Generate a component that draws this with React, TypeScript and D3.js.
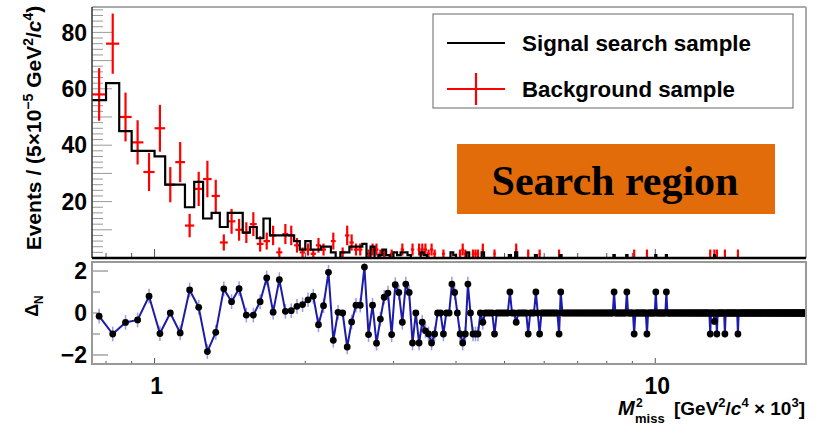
import React from "react";
import * as d3 from "d3";

// ---------------- data ----------------
const X_MIN = 0.75;
const X_MAX = 20;
const BIN_WIDTH = 0.05;
const BKG_WEIGHT = 1.5;

// Signal search sample, first 76 bins (0.75 .. 4.55)
const signalHead = [
  56, 62, 45, 38, 38, 36, 26, 26, 18, 27,
  14, 16, 11, 16, 16, 9, 11, 7, 14, 8,
  8, 8, 8, 6, 3, 6, 3, 3, 4, 4,
  2, 0, 2, 2, 4, 4, 4, 5, 0, 4,
  0, 1, 3, 1, 0, 2, 1, 2, 2, 1,
  0, 0, 0, 2, 1, 0, 0, 0, 0, 0,
  0, 0, 0, 2, 1, 0, 0, 0, 0, 2,
  0, 0, 0, 0, 0, 2,
];
// Background sample, first 76 bins
const backgroundHead = [
  58, 76, 50, 41, 30.5, 46, 26, 34, 11.5, 24.5,
  28, 22, 5.5, 13, 10, 9, 12, 5, 6, 8,
  2, 8.5, 8, 4.5, 2, 3, 1.5, 4.5, 3, 0,
  6, 0, 2, 8, 5.5, 3, 3, 0, 1.5, 3,
  3, 1.5, 1.5, 0, 1.5, 0, 0, 3, 0, 0,
  3, 0, 3, 3, 3, 1.5, 3, 1.5, 0, 0,
  1.5, 0, 0, 0, 0, 0, 1.5, 3, 1.5, 0,
  0, 1.5, 1.5, 1.5, 0, 3,
];
// Residuals Delta_N, first 76 bins
const residualHead = [
  -0.15, -1.0, -0.45, -0.33, 0.8, -0.98, 0.0, -0.95, 1.1, 0.27,
  -1.84, -0.92, 1.15, 0.54, 1.16, -0.1, -0.1, 0.54, 1.67, 0.04,
  1.59, 0.08, 0.11, 0.32, 0.4, 0.63, 0.8, -0.56, 0.35, 1.94,
  -1.3, 0.03, 0.0, -1.62, -0.43, 0.37, 0.37, 2.19, -1.03, 0.37,
  -1.44, -0.29, 0.75, 0.95, -1.03, 1.35, 0.98, -0.44, 1.38, 0.98,
  -1.43, 0, -1.43, -0.44, -0.85, -1.0, -1.43, -1.0, 0, 0,
  -1.0, 0, 0, 1.38, 0.98, 0, -1.0, -1.43, -1.0, 1.38,
  0, -1.0, -1.0, -1.0, 0, -0.44,
];
// Sparse tail (bin centres in M^2 units) beyond the head
const signalTailMass = [5.125, 5.275, 5.775, 6.475, 8.275, 8.775, 10.025, 10.525, 13.125];
const signalTailCount = [1, 2, 1, 1, 1, 1, 1, 1, 1];
const bkgTailMass = [4.775, 5.275, 5.575, 5.875, 6.425, 9.075, 9.625, 12.875, 13.125, 13.275, 13.775, 14.625];
const bkgTailValue = [1.5, 3, 1.5, 1.5, 1.5, 1.5, 1.5, 1.5, 1.5, 1.5, 1.5, 1.5];
const resTailMass = [4.775, 5.125, 5.275, 5.575, 5.775, 5.875, 6.425, 6.475, 8.275, 8.775, 9.075, 9.625, 10.025, 10.525, 12.875, 13.125, 13.275, 13.775, 14.625];
const resTailValue = [-1, 1, -0.44, -1, 1, -1, -1, 1, 1, 1, -1, -1, 1, 1, -1, -0.4, -1, -1, -1];

const topYTicksLabeled = [20, 40, 60, 80];
const botYTicksLabeled = [2, 0, -2];
const xMajorTicks = [1, 10];
const xMinorTicks = [0.8, 0.9, 2, 3, 4, 5, 6, 7, 8, 9];

// ---------------- build bins ----------------
const nBins = Math.round((X_MAX - X_MIN) / BIN_WIDTH);
const binIndex = (m: number) => Math.round((m - X_MIN - BIN_WIDTH / 2) / BIN_WIDTH);
const signal: number[] = [];
const background: number[] = [];
const residual: number[] = [];
for (let i = 0; i < nBins; i++) {
  signal.push(i < signalHead.length ? signalHead[i] : 0);
  background.push(i < backgroundHead.length ? backgroundHead[i] : 0);
  residual.push(i < residualHead.length ? residualHead[i] : 0);
}
signalTailMass.forEach((m, k) => (signal[binIndex(m)] = signalTailCount[k]));
bkgTailMass.forEach((m, k) => (background[binIndex(m)] = bkgTailValue[k]));
resTailMass.forEach((m, k) => (residual[binIndex(m)] = resTailValue[k]));
const edges = d3.range(nBins + 1).map((i) => X_MIN + i * BIN_WIDTH);
const centers = d3.range(nBins).map((i) => X_MIN + (i + 0.5) * BIN_WIDTH);

// ---------------- layout ----------------
const W = 818;
const H = 425;
const L = 92;
const R = 806;
const TOP_T = 7;
const TOP_B = 258;
const BOT_T = 262;
const BOT_B = 364;

const FONT = "'Liberation Sans', Arial, Helvetica, sans-serif";

export default function App() {
  const x = d3.scaleLog().domain([X_MIN, X_MAX]).range([L, R]);
  const yTop = d3.scaleLinear().domain([0, 89]).range([TOP_B, TOP_T]);
  const yBot = d3.scaleLinear().domain([-2.43, 2.43]).range([BOT_B, BOT_T]);

  const histPts: [number, number][] = edges.map((e, i) => [
    x(e),
    yTop(signal[Math.min(i, nBins - 1)]),
  ]);
  const histPath = d3.line().curve(d3.curveStepAfter)(histPts) || "";

  const resPts: [number, number][] = centers.map((c, i) => [x(c), yBot(residual[i])]);
  const resPath = d3.line()(resPts) || "";

  const topMinorY = d3.range(2, 89, 2);

  return (
    <svg width={W} height={H} style={{ display: "block", position: "absolute", left: 0, top: 0 }} fontFamily={FONT}>
      <rect x={0} y={0} width={W} height={H} fill="#fff" />

      <defs>
        <clipPath id="topclip">
          <rect x={L} y={TOP_T} width={R - L} height={TOP_B - TOP_T} />
        </clipPath>
        <clipPath id="botclip">
          <rect x={L} y={BOT_T} width={R - L} height={BOT_B - BOT_T} />
        </clipPath>
      </defs>

      {/* ---------- top panel ---------- */}
      {topMinorY.map((v) => (
        <line key={"tmy" + v} x1={L} x2={L + (v % 10 === 0 ? 20 : 11)} y1={yTop(v)} y2={yTop(v)} stroke="#9a9a9a" strokeWidth={1} />
      ))}
      {[...xMinorTicks, ...xMajorTicks].map((v) => (
        <line key={"tx" + v} x1={x(v)} x2={x(v)} y1={TOP_B} y2={TOP_B - (xMajorTicks.includes(v) ? 9 : 5)} stroke="#555" strokeWidth={1} />
      ))}

      <g clipPath="url(#topclip)">
        {background.map((b, i) => {
          if (b <= 0) return null;
          const err = Math.sqrt(BKG_WEIGHT * b);
          return (
            <g key={"bk" + i} stroke="#ff0000" strokeWidth={2.2}>
              <line x1={x(edges[i])} x2={x(edges[i + 1])} y1={yTop(b)} y2={yTop(b)} />
              <line x1={x(centers[i])} x2={x(centers[i])} y1={yTop(b - err)} y2={yTop(b + err)} />
            </g>
          );
        })}
        <path d={histPath} fill="none" stroke="#000" strokeWidth={2.2} />
      </g>

      <line x1={L} x2={R} y1={TOP_T} y2={TOP_T} stroke="#aaa" strokeWidth={2} />
      <line x1={R} x2={R} y1={TOP_T} y2={TOP_B} stroke="#aaa" strokeWidth={2} />
      <line x1={L} x2={L} y1={TOP_T} y2={TOP_B} stroke="#333" strokeWidth={1.5} />
      <line x1={L} x2={R} y1={TOP_B} y2={TOP_B} stroke="#000" strokeWidth={2.5} />

      {topYTicksLabeled.map((v) => (
        <text key={"tyl" + v} x={87} y={yTop(v)} dy="0.36em" textAnchor="end" fontSize={23} fontWeight="bold">
          {v}
        </text>
      ))}

      <text transform="translate(41,128) rotate(-90)" textAnchor="middle" fontSize={21} fontWeight="bold">
        Events / (5×10
        <tspan dy={-8} fontSize={14}>−5</tspan>
        <tspan dy={8}> GeV</tspan>
        <tspan dy={-8} fontSize={14}>2</tspan>
        <tspan dy={8}>/</tspan>
        <tspan fontStyle="italic">c</tspan>
        <tspan dy={-8} fontSize={14}>4</tspan>
        <tspan dy={8}>)</tspan>
      </text>

      {/* legend */}
      <rect x={433} y={14} width={360} height={94} fill="#fff" stroke="#666" strokeWidth={1} />
      <line x1={447} x2={505} y1={43} y2={43} stroke="#000" strokeWidth={2.2} />
      <text x={522} y={51} fontSize={21.5} fontWeight="bold" textLength={229} lengthAdjust="spacingAndGlyphs">Signal search sample</text>
      <line x1={447} x2={505} y1={89} y2={89} stroke="#ff0000" strokeWidth={2.2} />
      <line x1={476} x2={476} y1={73} y2={105} stroke="#ff0000" strokeWidth={2.2} />
      <text x={522} y={97} fontSize={21.5} fontWeight="bold" textLength={213} lengthAdjust="spacingAndGlyphs">Background sample</text>

      {/* search region box */}
      <rect x={457} y={144} width={318} height={70} fill="#E36C0A" />
      <text x={615} y={195} textAnchor="middle" fontSize={42} fontWeight="bold" fontFamily="'Liberation Serif', 'Times New Roman', serif">
        Search region
      </text>

      {/* ---------- bottom panel ---------- */}
      {[2, 1, 0, -1, -2].map((v) => (
        <line key={"bty" + v} x1={L} x2={L + (Math.abs(v) === 2 ? 16 : 8)} y1={yBot(v)} y2={yBot(v)} stroke="#777" strokeWidth={1} />
      ))}
      {[...xMinorTicks, ...xMajorTicks].map((v) => (
        <line key={"bx" + v} x1={x(v)} x2={x(v)} y1={BOT_B} y2={BOT_B - (xMajorTicks.includes(v) ? 6 : 3)} stroke="#555" strokeWidth={1} />
      ))}

      <g clipPath="url(#botclip)">
        {residual.map((r, i) =>
          i < residualHead.length && r !== 0 ? (
            <line key={"re" + i} x1={x(centers[i])} x2={x(centers[i])} y1={yBot(r - 0.35)} y2={yBot(r + 0.35)} stroke="#9a9ae6" strokeWidth={1.5} />
          ) : null
        )}
        <path d={resPath} fill="none" stroke="#1c1ca8" strokeWidth={2} />
        {residual.map((r, i) => (
          <circle key={"rd" + i} cx={x(centers[i])} cy={yBot(r)} r={3.4} fill="#000" />
        ))}
      </g>

      <rect x={L} y={BOT_T} width={R - L} height={BOT_B - BOT_T} fill="none" stroke="#999" strokeWidth={2} />

      {botYTicksLabeled.map((v) => (
        <text key={"byl" + v} x={87} y={yBot(v)} dy="0.36em" textAnchor="end" fontSize={23} fontWeight="bold">
          {v < 0 ? "−" + Math.abs(v) : v}
        </text>
      ))}
      <text transform="translate(38,306) rotate(-90)" textAnchor="middle" fontSize={18} fontWeight="bold">
        Δ<tspan dy={5} fontSize={12}>N</tspan>
      </text>

      {xMajorTicks.map((v) => (
        <text key={"xl" + v} x={x(v) + 2} y={394} textAnchor="middle" fontSize={23} fontWeight="bold">
          {v}
        </text>
      ))}

      {/* x axis title */}
      <text x={618} y={415} fontSize={20} fontWeight="bold" fontStyle="italic">M</text>
      <text x={636} y={407} fontSize={12} fontWeight="bold">2</text>
      <text x={635} y={423} fontSize={13} fontWeight="bold">miss</text>
      <text x={805} y={415} fontSize={19} fontWeight="bold" textAnchor="end">
        [GeV<tspan dy={-8} fontSize={13}>2</tspan>
        <tspan dy={8}>/</tspan>
        <tspan fontStyle="italic">c</tspan>
        <tspan dy={-8} fontSize={13}>4</tspan>
        <tspan dy={8}> × 10</tspan>
        <tspan dy={-8} fontSize={13}>3</tspan>
        <tspan dy={8}>]</tspan>
      </text>
    </svg>
  );
}
